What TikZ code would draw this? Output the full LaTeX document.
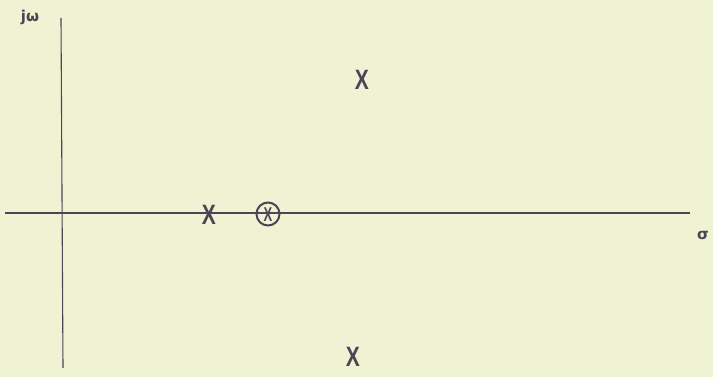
\documentclass[tikz,border=0pt]{standalone}
\usepackage{fontspec}
\setmainfont{DejaVu Sans}
\newfontfamily\markfont{Liberation Sans}
\definecolor{paper}{HTML}{EFF2D3}
\definecolor{ink}{HTML}{4A4656}
\begin{document}
\begin{tikzpicture}[x=1pt,y=-1pt,
  axisline/.style={draw=ink, line width=1.1pt},
  polemark/.style={text=ink, inner sep=0pt, font=\markfont\fontsize{28}{28}\selectfont},
  axislabel/.style={text=ink, inner sep=0pt, font=\bfseries\fontsize{15}{15}\selectfont},
  zeroring/.style={draw=ink, line width=2pt, circle, minimum size=23pt, inner sep=0pt}]
\fill[paper] (0,0) rectangle (713,377);
\useasboundingbox (0,0) rectangle (713,377);
\coordinate (vt) at (61,18);
\coordinate (vb) at (63,368);
\coordinate (hl) at (5,213);
\coordinate (hr) at (690,213);
\draw[axisline] (vt) -- (vb);
\draw[axisline] (hl) -- (hr);
\node[axislabel] (jw) at (30,17) {jω};
\node[axislabel] (sig) at (703,236) {σ};
\node[polemark, xscale=0.75] (p1) at (209,215) {\textbf{X}};
\node[polemark, xscale=0.75] (p2) at (362,80) {\textbf{X}};
\node[polemark, xscale=0.75] (p3) at (353,357) {\textbf{X}};
\node[polemark, xscale=0.65, font=\markfont\bfseries\fontsize{20}{20}\selectfont] (p4) at (268,215) {X};
\node[zeroring] (z1) at (268,214) {};
\end{tikzpicture}
\end{document}
